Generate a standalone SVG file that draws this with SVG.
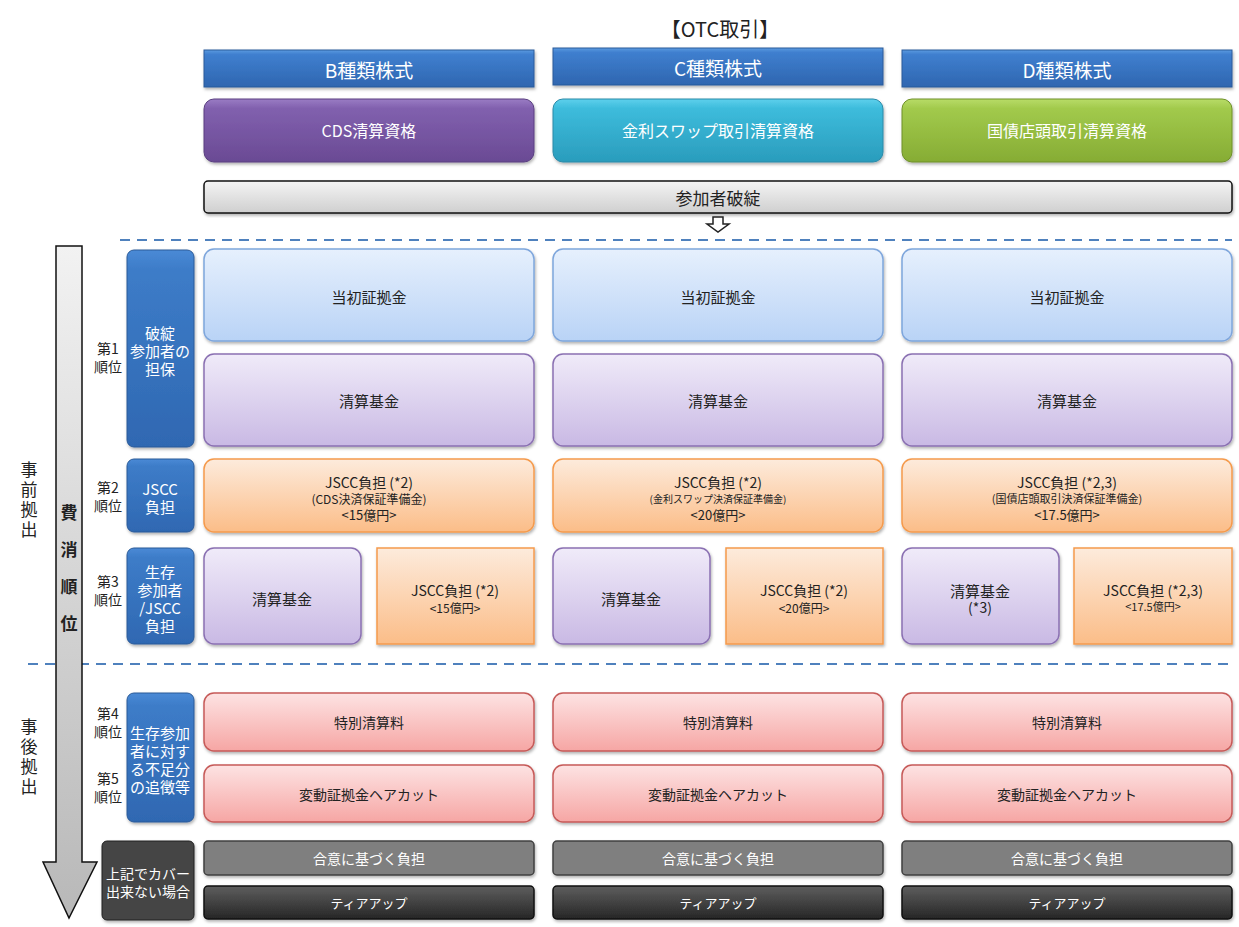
<svg xmlns="http://www.w3.org/2000/svg" width="1239" height="927" viewBox="0 0 1239 927">
<defs>
<linearGradient id="gHead" x1="0" y1="0" x2="0" y2="1"><stop offset="0" stop-color="#5b9be0"/><stop offset="0.12" stop-color="#3f7fcf"/><stop offset="1" stop-color="#2f66b0"/></linearGradient>
<linearGradient id="gPurple" x1="0" y1="0" x2="0" y2="1"><stop offset="0" stop-color="#9a7cc4"/><stop offset="0.15" stop-color="#8160ae"/><stop offset="1" stop-color="#6a4a94"/></linearGradient>
<linearGradient id="gCyan" x1="0" y1="0" x2="0" y2="1"><stop offset="0" stop-color="#5ed0ec"/><stop offset="0.15" stop-color="#3dbcdc"/><stop offset="1" stop-color="#2a9cbc"/></linearGradient>
<linearGradient id="gGreen" x1="0" y1="0" x2="0" y2="1"><stop offset="0" stop-color="#b8dc68"/><stop offset="0.15" stop-color="#a2ca4c"/><stop offset="1" stop-color="#86ac34"/></linearGradient>
<linearGradient id="gGray" x1="0" y1="0" x2="0" y2="1"><stop offset="0" stop-color="#f4f4f4"/><stop offset="1" stop-color="#cfcfcf"/></linearGradient>
<linearGradient id="gBlueBox" x1="0" y1="0" x2="0" y2="1"><stop offset="0" stop-color="#e6f0fd"/><stop offset="1" stop-color="#b9d3f6"/></linearGradient>
<linearGradient id="gLav" x1="0" y1="0" x2="0" y2="1"><stop offset="0" stop-color="#f0ebf9"/><stop offset="1" stop-color="#c9b9e4"/></linearGradient>
<linearGradient id="gOrange" x1="0" y1="0" x2="0" y2="1"><stop offset="0" stop-color="#fdebdc"/><stop offset="1" stop-color="#fbbd88"/></linearGradient>
<linearGradient id="gPink" x1="0" y1="0" x2="0" y2="1"><stop offset="0" stop-color="#fde3e3"/><stop offset="1" stop-color="#f6a6a4"/></linearGradient>
<linearGradient id="gDark" x1="0" y1="0" x2="0" y2="1"><stop offset="0" stop-color="#5e5e5e"/><stop offset="1" stop-color="#262626"/></linearGradient>
<linearGradient id="gLabel" x1="0" y1="0" x2="0" y2="1"><stop offset="0" stop-color="#4a8ad6"/><stop offset="0.1" stop-color="#3d7cc8"/><stop offset="1" stop-color="#2f68b2"/></linearGradient>
<linearGradient id="gArrow" x1="0" y1="0" x2="0" y2="1"><stop offset="0" stop-color="#f2f2f2"/><stop offset="1" stop-color="#b8b8b8"/></linearGradient>
<filter id="sh" x="-5%" y="-5%" width="110%" height="120%"><feDropShadow dx="1" dy="2" stdDeviation="1.5" flood-color="#000" flood-opacity="0.3"/></filter>
</defs>
<style>
text{font-family:"Noto Sans CJK JP","Liberation Sans",sans-serif;text-anchor:middle;dominant-baseline:central;fill:#222}
.w{fill:#fff}
.v{writing-mode:vertical-rl;text-orientation:upright}
.head{fill:url(#gHead);stroke:#2a5a9a;stroke-width:1}
.blueBox{fill:url(#gBlueBox);stroke:#7ea6dc;stroke-width:1.5}
.lav{fill:url(#gLav);stroke:#8a70b2;stroke-width:1.5}
.org{fill:url(#gOrange);stroke:#f59a4c;stroke-width:1.5}
.pink{fill:url(#gPink);stroke:#c65a58;stroke-width:1.5}
.gray2{fill:#7f7f7f;stroke:#404040;stroke-width:1.5}
.dark{fill:url(#gDark);stroke:#111;stroke-width:1.5}
.lbl{fill:url(#gLabel);stroke:#2a5a98;stroke-width:1}
.dash{stroke:#4f81bd;stroke-width:2;stroke-dasharray:10 7;fill:none}
.rank{font-size:14px}
</style>

<text x="720" y="28" font-size="20">【OTC取引】</text>

<!-- headers -->
<g id="hdrB"><rect class="head" x="204" y="50" width="330" height="37" filter="url(#sh)"/><text class="w" x="369" y="69" font-size="19">B種類株式</text></g>
<g id="hdrC"><rect class="head" x="553" y="48" width="330" height="37" filter="url(#sh)"/><text class="w" x="718" y="67" font-size="19">C種類株式</text></g>
<g id="hdrD"><rect class="head" x="902" y="50" width="330" height="37" filter="url(#sh)"/><text class="w" x="1067" y="69" font-size="19">D種類株式</text></g>

<g id="qualB"><rect x="204" y="99" width="330" height="63" rx="10" fill="url(#gPurple)" stroke="#5a3f80" filter="url(#sh)"/><text class="w" x="369" y="130" font-size="16">CDS清算資格</text></g>
<g id="qualC"><rect x="553" y="99" width="330" height="63" rx="10" fill="url(#gCyan)" stroke="#2a8aa8" filter="url(#sh)"/><text class="w" x="718" y="130" font-size="16">金利スワップ取引清算資格</text></g>
<g id="qualD"><rect x="902" y="99" width="330" height="63" rx="10" fill="url(#gGreen)" stroke="#6e9028" filter="url(#sh)"/><text class="w" x="1067" y="130" font-size="16">国債店頭取引清算資格</text></g>

<g id="default"><rect x="204" y="181" width="1028" height="32" rx="4" fill="url(#gGray)" stroke="#111" stroke-width="1.5" filter="url(#sh)"/><text x="718" y="197" font-size="17">参加者破綻</text></g>

<g id="connectors">
<path d="M713,217 H723 V224 H729 L718,232 L707,224 H713 Z" fill="#fff" stroke="#222" stroke-width="1.5"/>
<line class="dash" x1="120" y1="240" x2="1232" y2="240"/>
<line class="dash" x1="28" y1="664" x2="1232" y2="664"/>
</g>

<!-- big arrow -->
<g id="bigArrow">
<path d="M56,246 H82 V862 H97 L69,918 L43,862 H56 Z" fill="url(#gArrow)" stroke="#111" stroke-width="1.5"/>
<text class="v" x="69" y="578" font-size="17" font-weight="bold" letter-spacing="20">費消順位</text>
</g>

<g id="pre"><text class="v" x="29" y="501" font-size="17" letter-spacing="3">事前拠出</text></g>
<g id="post"><text class="v" x="29" y="758" font-size="17" letter-spacing="3">事後拠出</text></g>

<!-- ranks -->
<g id="r1"><text class="rank" x="108" y="348">第1<tspan x="108" dy="18">順位</tspan></text></g>
<g id="r2"><text class="rank" x="108" y="487">第2<tspan x="108" dy="18">順位</tspan></text></g>
<g id="r3"><text class="rank" x="108" y="581">第3<tspan x="108" dy="18">順位</tspan></text></g>
<g id="r4"><text class="rank" x="108" y="713">第4<tspan x="108" dy="18">順位</tspan></text></g>
<g id="r5"><text class="rank" x="108" y="778">第5<tspan x="108" dy="18">順位</tspan></text></g>

<!-- row labels -->
<g id="lab1"><rect class="lbl" x="127" y="250" width="67" height="197" rx="7" filter="url(#sh)"/><text class="w" x="160" y="332" font-size="15">破綻<tspan x="160" dy="18">参加者の</tspan><tspan x="160" dy="18">担保</tspan></text></g>
<g id="lab2"><rect class="lbl" x="127" y="459" width="67" height="73" rx="7" filter="url(#sh)"/><text class="w" x="160" y="488" font-size="15">JSCC<tspan x="160" dy="18">負担</tspan></text></g>
<g id="lab3"><rect class="lbl" x="127" y="548" width="67" height="96" rx="7" filter="url(#sh)"/><text class="w" x="160" y="571" font-size="15">生存<tspan x="160" dy="18">参加者</tspan><tspan x="160" dy="18">/JSCC</tspan><tspan x="160" dy="18">負担</tspan></text></g>
<g id="lab45"><rect class="lbl" x="127" y="693" width="67" height="129" rx="7" filter="url(#sh)"/><text class="w" x="160" y="732" font-size="15">生存参加<tspan x="160" dy="18">者に対す</tspan><tspan x="160" dy="18">る不足分</tspan><tspan x="160" dy="18">の追徴等</tspan></text></g>
<g id="labLast"><rect x="102" y="841" width="92" height="79" rx="5" fill="#444" stroke="#222" filter="url(#sh)"/><text class="w" x="148" y="873" font-size="14">上記でカバー<tspan x="148" dy="18">出来ない場合</tspan></text></g>

<!-- column B -->
<g id="B_im"><rect class="blueBox" x="204" y="249" width="330" height="92" rx="10" filter="url(#sh)"/><text x="369" y="296" font-size="15">当初証拠金</text></g>
<g id="B_cf"><rect class="lav" x="204" y="354" width="330" height="92" rx="10" filter="url(#sh)"/><text x="369" y="400" font-size="15">清算基金</text></g>
<g id="B_j"><rect class="org" x="204" y="459" width="330" height="73" rx="10" filter="url(#sh)"/><text x="369" y="482" font-size="14">JSCC負担 (*2)<tspan x="369" dy="16" font-size="12">(CDS決済保証準備金)</tspan><tspan x="369" dy="16" font-size="13">&lt;15億円&gt;</tspan></text></g>
<g id="B_cf3"><rect class="lav" x="204" y="548" width="157" height="96" rx="10" filter="url(#sh)"/><text x="282" y="598" font-size="15">清算基金</text></g>
<g id="B_j3"><rect class="org" x="377" y="548" width="157" height="96" filter="url(#sh)"/><text x="455" y="590" font-size="14">JSCC負担 (*2)<tspan x="455" dy="17" font-size="12">&lt;15億円&gt;</tspan></text></g>
<g id="B_sp"><rect class="pink" x="204" y="693" width="330" height="58" rx="10" filter="url(#sh)"/><text x="369" y="722" font-size="14">特別清算料</text></g>
<g id="B_hc"><rect class="pink" x="204" y="765" width="330" height="57" rx="10" filter="url(#sh)"/><text x="369" y="794" font-size="14">変動証拠金ヘアカット</text></g>
<g id="B_ag"><rect class="gray2" x="204" y="841" width="330" height="34" rx="4" filter="url(#sh)"/><text class="w" x="369" y="858" font-size="14">合意に基づく負担</text></g>
<g id="B_ta"><rect class="dark" x="204" y="886" width="330" height="33" rx="4" filter="url(#sh)"/><text class="w" x="369" y="902" font-size="13">ティアアップ</text></g>

<!-- column C -->
<g id="C_im"><rect class="blueBox" x="553" y="249" width="330" height="92" rx="10" filter="url(#sh)"/><text x="718" y="296" font-size="15">当初証拠金</text></g>
<g id="C_cf"><rect class="lav" x="553" y="354" width="330" height="92" rx="10" filter="url(#sh)"/><text x="718" y="400" font-size="15">清算基金</text></g>
<g id="C_j"><rect class="org" x="553" y="459" width="330" height="73" rx="10" filter="url(#sh)"/><text x="718" y="482" font-size="14">JSCC負担 (*2)<tspan x="718" dy="16" font-size="10">(金利スワップ決済保証準備金)</tspan><tspan x="718" dy="16" font-size="13">&lt;20億円&gt;</tspan></text></g>
<g id="C_cf3"><rect class="lav" x="553" y="548" width="157" height="96" rx="10" filter="url(#sh)"/><text x="631" y="598" font-size="15">清算基金</text></g>
<g id="C_j3"><rect class="org" x="726" y="548" width="157" height="96" filter="url(#sh)"/><text x="804" y="590" font-size="14">JSCC負担 (*2)<tspan x="804" dy="17" font-size="12">&lt;20億円&gt;</tspan></text></g>
<g id="C_sp"><rect class="pink" x="553" y="693" width="330" height="58" rx="10" filter="url(#sh)"/><text x="718" y="722" font-size="14">特別清算料</text></g>
<g id="C_hc"><rect class="pink" x="553" y="765" width="330" height="57" rx="10" filter="url(#sh)"/><text x="718" y="794" font-size="14">変動証拠金ヘアカット</text></g>
<g id="C_ag"><rect class="gray2" x="553" y="841" width="330" height="34" rx="4" filter="url(#sh)"/><text class="w" x="718" y="858" font-size="14">合意に基づく負担</text></g>
<g id="C_ta"><rect class="dark" x="553" y="886" width="330" height="33" rx="4" filter="url(#sh)"/><text class="w" x="718" y="902" font-size="13">ティアアップ</text></g>

<!-- column D -->
<g id="D_im"><rect class="blueBox" x="902" y="249" width="330" height="92" rx="10" filter="url(#sh)"/><text x="1067" y="296" font-size="15">当初証拠金</text></g>
<g id="D_cf"><rect class="lav" x="902" y="354" width="330" height="92" rx="10" filter="url(#sh)"/><text x="1067" y="400" font-size="15">清算基金</text></g>
<g id="D_j"><rect class="org" x="902" y="459" width="330" height="73" rx="10" filter="url(#sh)"/><text x="1067" y="482" font-size="14">JSCC負担 (*2,3)<tspan x="1067" dy="16" font-size="11">(国債店頭取引決済保証準備金)</tspan><tspan x="1067" dy="16" font-size="13">&lt;17.5億円&gt;</tspan></text></g>
<g id="D_cf3"><rect class="lav" x="902" y="548" width="157" height="96" rx="10" filter="url(#sh)"/><text x="980" y="590" font-size="15">清算基金<tspan x="980" dy="17" font-size="14">(*3)</tspan></text></g>
<g id="D_j3"><rect class="org" x="1074" y="548" width="158" height="96" filter="url(#sh)"/><text x="1153" y="590" font-size="14">JSCC負担 (*2,3)<tspan x="1153" dy="16" font-size="11">&lt;17.5億円&gt;</tspan></text></g>
<g id="D_sp"><rect class="pink" x="902" y="693" width="330" height="58" rx="10" filter="url(#sh)"/><text x="1067" y="722" font-size="14">特別清算料</text></g>
<g id="D_hc"><rect class="pink" x="902" y="765" width="330" height="57" rx="10" filter="url(#sh)"/><text x="1067" y="794" font-size="14">変動証拠金ヘアカット</text></g>
<g id="D_ag"><rect class="gray2" x="902" y="841" width="330" height="34" rx="4" filter="url(#sh)"/><text class="w" x="1067" y="858" font-size="14">合意に基づく負担</text></g>
<g id="D_ta"><rect class="dark" x="902" y="886" width="330" height="33" rx="4" filter="url(#sh)"/><text class="w" x="1067" y="902" font-size="13">ティアアップ</text></g>
</svg>
